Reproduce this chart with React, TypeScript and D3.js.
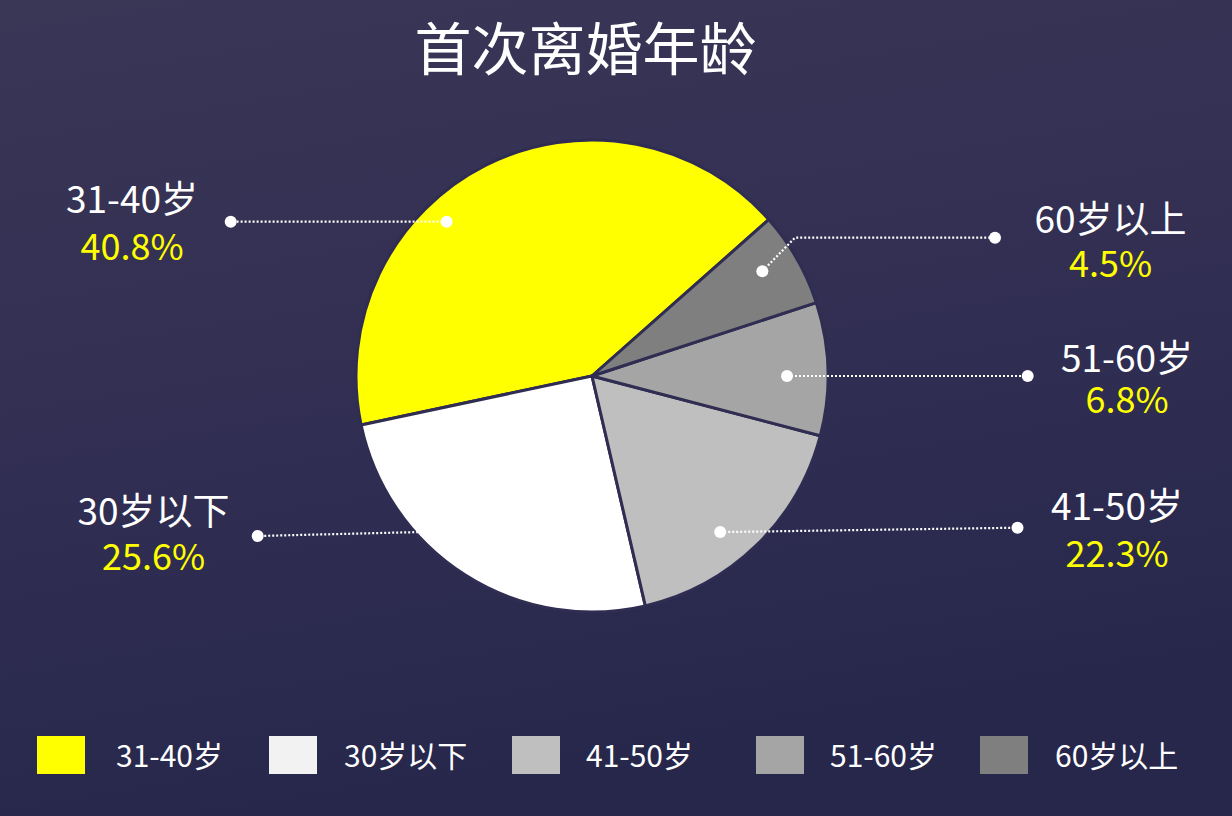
import React from "react";
import * as d3 from "d3";

const W = 1232;
const H = 816;

const title = "首次离婚年龄";
const categories = ["31-40岁", "30岁以下", "41-50岁", "51-60岁", "60岁以上"];
// slice sizes
const sliceValues = [41.8, 25.3, 17.3, 9.1, 6.5];
// percentages printed on the labels
const percentLabels = ["40.8%", "25.6%", "22.3%", "6.8%", "4.5%"];
const sliceColors = ["#ffff00", "#ffffff", "#bfbfbf", "#a5a5a5", "#7f7f7f"];
const legendColors = ["#ffff00", "#f2f2f2", "#bfbfbf", "#a5a5a5", "#7f7f7f"];

// layout (annotation geometry)
const center = { x: 592, y: 376 };
const radius = 236;
const startDeg = 48.5;
const labelLayout = [
  { angle: -43.3, r: 212, outer: [230.7, 221.7], tx: 132, y1: 213, y2: 260 },
  { angle: 218.2, r: 197, outer: [257.7, 536], tx: 153.5, y1: 525, y2: 570 },
  { angle: 140.6, r: 202, outer: [1017.5, 527.7], tx: 1117, y1: 520, y2: 567 },
  { angle: 90, r: 195, outer: [1027.7, 376], tx: 1127, y1: 372, y2: 413 },
  { angle: 58.4, r: 200, elbow: [795, 237.7], outer: [995, 237.7], tx: 1110.5, y1: 233, y2: 277 },
];
const legendX = [37, 269, 512, 756, 980];
const legendTextDx = [79, 75, 74, 74, 75];

const FONT = "'Noto Sans CJK SC', 'Noto Sans', sans-serif";

export default function App() {
  const rad = (d: number) => (d * Math.PI) / 180;
  const pie = d3
    .pie<number>()
    .sort(null)
    .value((d) => d)
    .startAngle(rad(startDeg))
    .endAngle(rad(startDeg - 360));
  const arcs = pie(sliceValues);
  const arcGen = d3.arc<d3.PieArcDatum<number>>().innerRadius(0).outerRadius(radius);

  const polar = (deg: number, r: number): [number, number] => [
    center.x + r * Math.sin(rad(deg)),
    center.y - r * Math.cos(rad(deg)),
  ];

  return (
    <svg
      width={W}
      height={H}
      viewBox={`0 0 ${W} ${H}`}
      style={{ position: "absolute", left: 0, top: 0, display: "block" }}
    >
      <defs>
        <linearGradient id="bg" x1="0" y1="0" x2="0.25" y2="1">
          <stop offset="0" stopColor="#3a3656" />
          <stop offset="0.5" stopColor="#322f53" />
          <stop offset="1" stopColor="#27274c" />
        </linearGradient>
      </defs>
      <rect x={0} y={0} width={W} height={H} fill="url(#bg)" />

      <text
        x={585.5}
        y={70}
        textAnchor="middle"
        fontFamily={FONT}
        fontSize={57}
        fill="#ffffff"
      >
        {title}
      </text>

      <g transform={`translate(${center.x},${center.y})`}>
        {arcs.map((a, i) => (
          <path
            key={categories[i]}
            d={arcGen(a) || ""}
            fill={sliceColors[i]}
            stroke="#302d52"
            strokeWidth={3}
            strokeLinejoin="round"
          />
        ))}
      </g>

      {labelLayout.map((L, i) => {
        const inner = polar(L.angle, L.r);
        const pts: [number, number][] = [inner];
        if (L.elbow) pts.push(L.elbow as [number, number]);
        pts.push(L.outer as [number, number]);
        const line = d3.line()(pts) || "";
        return (
          <g key={"lab" + i}>
            <path
              d={line}
              fill="none"
              stroke="#ffffff"
              strokeWidth={2.2}
              strokeDasharray="2 2"
            />
            <circle cx={inner[0]} cy={inner[1]} r={6} fill="#ffffff" />
            <circle cx={L.outer[0]} cy={L.outer[1]} r={6} fill="#ffffff" />
            <text
              x={L.tx}
              y={L.y1}
              textAnchor="middle"
              fontFamily={FONT}
              fontSize={37}
              fill="#ffffff"
            >
              {categories[i]}
            </text>
            <text
              x={L.tx}
              y={L.y2}
              textAnchor="middle"
              fontFamily={FONT}
              fontSize={36}
              fill="#ffff00"
            >
              {percentLabels[i]}
            </text>
          </g>
        );
      })}

      {categories.map((c, i) => (
        <g key={"lg" + i}>
          <rect x={legendX[i]} y={736} width={48} height={38} fill={legendColors[i]} />
          <text
            x={legendX[i] + legendTextDx[i]}
            y={767}
            fontFamily={FONT}
            fontSize={30}
            fill="#ffffff"
          >
            {c}
          </text>
        </g>
      ))}
    </svg>
  );
}
